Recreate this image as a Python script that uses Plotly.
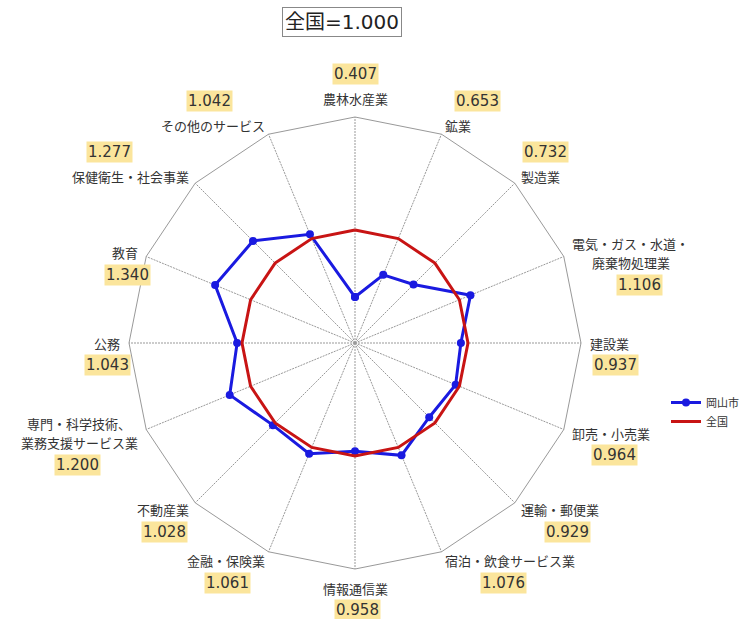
import math
import plotly.graph_objects as go

# data
categories = [
    "農林水産業", "鉱業", "製造業", "電気・ガス・水道・<br>廃棄物処理業", "建設業",
    "卸売・小売業", "運輸・郵便業", "宿泊・飲食サービス業", "情報通信業", "金融・保険業",
    "不動産業", "専門・科学技術、<br>業務支援サービス業", "公務", "教育",
    "保健衛生・社会事業", "その他のサービス",
]
okayama = [0.407, 0.653, 0.732, 1.106, 0.937, 0.964, 0.929, 1.076,
           0.958, 1.061, 1.028, 1.200, 1.043, 1.340, 1.277, 1.042]
national = [1.000, 1.000, 1.000, 1.000, 1.000, 1.000, 1.000, 1.000,
            1.000, 1.000, 1.000, 1.000, 1.000, 1.000, 1.000, 1.000]
r_max = 2.0

# layout helpers (pixels)
W, H = 750, 619
cx, cy, R = 355, 343, 226          # polar centre / radius
value_dx = [0, 20, 5, 9, 6, 3, 7, -6, 2, 1, 2, -2, 0, 3, -21, -4]  # value box nudge
FONT = "Noto Sans CJK JP, Noto Sans, sans-serif"
NUM_FONT = "DejaVu Sans, Noto Sans CJK JP, sans-serif"

fig = go.Figure()

fig.add_trace(go.Scatterpolar(
    r=okayama + okayama[:1], theta=categories + categories[:1],
    mode="lines+markers", name="岡山市",
    line=dict(color="#1a1ae0", width=3),
    marker=dict(color="#1a1ae0", size=8),
))
fig.add_trace(go.Scatterpolar(
    r=national + national[:1], theta=categories + categories[:1],
    mode="lines", name="全国",
    line=dict(color="#c81414", width=3),
))

# category labels next to each outer vertex, value boxes beside them
annotations = []
n = len(categories)
line_h = 19.5
for i, (name, val) in enumerate(zip(categories, okayama)):
    t = math.radians(i * 360 / n)
    s, c = math.sin(t), math.cos(t)
    vx, vy = cx + R * s, cy - R * c
    lines = name.split("<br>")
    bw = max(len(l) for l in lines) * 13
    if abs(s) < 0.01:
        bx = vx
        bcy = vy - 19 if c > 0 else vy + 19
    else:
        bx = vx + 9 * s + math.copysign(bw / 2, s)
        bcy = vy - 9.5 * c
    ys = [bcy + (k - (len(lines) - 1) / 2) * line_h for k in range(len(lines))]
    for ln, ly in zip(lines, ys):
        annotations.append(dict(
            x=bx / W, y=1 - ly / H, xref="paper", yref="paper",
            text=ln, showarrow=False, xanchor="center", yanchor="middle",
            font=dict(family=FONT, size=13, color="#333"),
        ))
    val_y = ys[0] - 24 if c >= 0.7 else ys[-1] + 22
    annotations.append(dict(
        x=(bx + value_dx[i]) / W, y=1 - val_y / H, xref="paper", yref="paper",
        text=f"{val:.3f}", showarrow=False, xanchor="center", yanchor="middle",
        font=dict(family=NUM_FONT, size=15, color="#333"),
        bgcolor="#fbe59c", borderpad=1,
    ))

annotations.append(dict(
    x=342 / W, y=1 - 22 / H, xref="paper", yref="paper",
    text="全国=1.000", showarrow=False, xanchor="center", yanchor="middle",
    font=dict(family=NUM_FONT, size=20, color="#222"),
    bordercolor="#888", borderwidth=1, borderpad=2, bgcolor="white",
))

fig.update_layout(
    width=W, height=H,
    margin=dict(l=0, r=0, t=0, b=0),
    paper_bgcolor="white",
    polar=dict(
        domain=dict(x=[(cx - R) / W, (cx + R) / W],
                    y=[1 - (cy + R) / H, 1 - (cy - R) / H]),
        bgcolor="white",
        gridshape="linear",
        radialaxis=dict(range=[0, r_max], visible=False),
        angularaxis=dict(
            direction="clockwise", rotation=90,
            showticklabels=False, ticks="",
            showline=True, linecolor="#999", linewidth=1,
            showgrid=True, gridcolor="#999", gridwidth=1, griddash="2px,1px",
        ),
    ),
    legend=dict(
        x=666 / W, y=1 - 388 / H, xanchor="left", yanchor="top",
        font=dict(family=FONT, size=11, color="#333"),
        itemwidth=30, tracegroupgap=0, bgcolor="rgba(0,0,0,0)",
    ),
    annotations=annotations,
)

fig.write_html("out.html", config={"displayModeBar": False},
               post_script="document.body.style.margin='0';")
